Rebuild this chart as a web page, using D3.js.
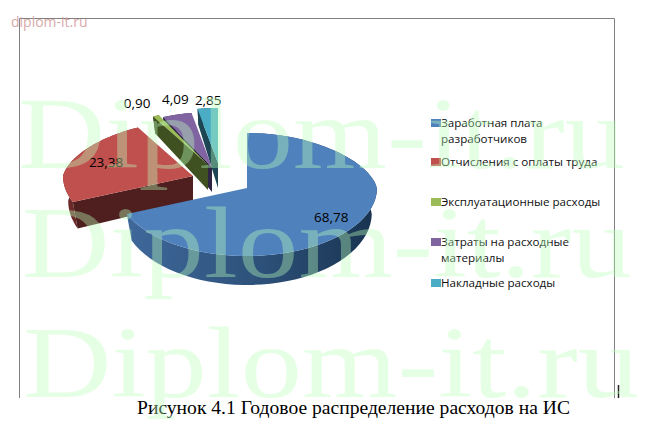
<!DOCTYPE html>
<html><head><meta charset="utf-8">
<script src="https://cdnjs.cloudflare.com/ajax/libs/d3/7.8.5/d3.min.js"></script>
<style>html,body{margin:0;padding:0;background:#fff;overflow:hidden}svg{display:block}</style>
</head><body><svg id="c" width="647" height="430"></svg>
<script>
const categories = ["Заработная плата разработчиков","Отчисления с оплаты труда","Эксплуатационные расходы","Затраты на расходные материалы","Накладные расходы"];
const values = [68.78,23.38,0.90,4.09,2.85];
const legendLines = [["Заработная плата","разработчиков"],["Отчисления с оплаты труда"],["Эксплуатационные расходы"],["Затраты на расходные","материалы"],["Накладные расходы"]];
const captionText = "Рисунок 4.1 Годовое распределение расходов на ИС";

// layout / style
const topColors = ["#4f81bd","#c0504d","#9bbb59","#8064a2","#4bacc6"];
const sideColors = ["url(#blueSide)","#6b2a28","#47591f","#2f2545","#1d4a57"];
const cutColors = ["#1c3a5c","#4e1f1e","#3f5021","#2e2444","#1c4653"];
const apexX = [247,193,208,212,218];
const apexY = [188,176,165,167,163];
const labelF = [.78,.74,1.25,1.28,1.15];
const labelShift = [0,0,-6,8,2];
const legendY = [123,162,202,242,283];
const rx = 130, ryBack = 55, ryFront = 68, depth = 25, ryBotBack = 64, ryBotFront = 72;

const svg = d3.select("#c");
const defs = svg.append("defs");
const g = defs.append("linearGradient").attr("id","blueSide");
g.append("stop").attr("offset","0%").attr("stop-color","#3f689b");
g.append("stop").attr("offset","55%").attr("stop-color","#2c5078");
g.append("stop").attr("offset","100%").attr("stop-color","#18324f");

const arcs = d3.pie().sort(null).value(d=>d)(values);
const xf = c => c>0 ? 1-.12*c : 1;
const topRim = (i,t)=>{const c=Math.cos(t),s=Math.sin(t);
  return [apexX[i]+rx*s*xf(c), apexY[i]-(c>0?ryBack:ryFront)*c];};
const botRim = (i,t)=>{const c=Math.cos(t),s=Math.sin(t);
  return [apexX[i]+rx*.96*s*xf(c), apexY[i]+depth-(c>0?ryBotBack:ryBotFront)*c];};
const line = d3.line();
const samples = (a,b)=>d3.range(0,61).map(k=>a+(b-a)*k/60);

const marks = svg.append("g");
[4,3,2,1,0].forEach(i=>{
  const a=arcs[i], gg=marks.append("g");
  const ts=samples(a.startAngle,a.endAngle);
  gg.append("path").attr("d",line(ts.map(t=>topRim(i,t)).concat(ts.slice().reverse().map(t=>botRim(i,t))))+"Z")
    .attr("fill",sideColors[i]);
  const ap=[apexX[i],apexY[i]], apB=[apexX[i],apexY[i]+depth];
  if(i>0) gg.append("path").attr("d",line([ap,topRim(i,a.startAngle),botRim(i,a.startAngle),apB])+"Z").attr("fill",cutColors[i]);
  gg.append("path").attr("d",line([ap].concat(ts.map(t=>topRim(i,t))))+"Z").attr("fill",topColors[i]);
});

// data labels
const fmt = v=>v.toFixed(2).replace(".",",");
svg.append("g").selectAll("text").data(arcs).join("text")
  .attr("x",(d,i)=>{const m=(d.startAngle+d.endAngle)/2;return apexX[i]+(topRim(i,m)[0]-apexX[i])*labelF[i]+labelShift[i];})
  .attr("y",(d,i)=>{const m=(d.startAngle+d.endAngle)/2;return apexY[i]+(topRim(i,m)[1]-apexY[i])*labelF[i]+4.5;})
  .attr("text-anchor","middle").attr("font-family","'Open Sans',sans-serif").attr("font-size",13.5).attr("fill","#000")
  .text(d=>fmt(d.value));

// legend
const leg = svg.append("g");
categories.forEach((c,i)=>{
  leg.append("rect").attr("x",431).attr("y",legendY[i]-4).attr("width",10).attr("height",8).attr("fill",topColors[i]);
  legendLines[i].forEach((l,k)=>leg.append("text").attr("x",441).attr("y",legendY[i]+4+k*16)
    .attr("font-family","'Open Sans',sans-serif").attr("font-size",11.6).attr("fill","#111").text(l));
});

// frame
const frame = svg.append("g").attr("stroke","#808080").attr("stroke-width",1).attr("fill","none");
frame.append("path").attr("d","M19.5,398V18.5H614.5V398");
svg.append("path").attr("d","M618.5,385V398").attr("stroke","#222").attr("stroke-width",1.5);

// caption
svg.append("text").attr("x",137).attr("y",414).attr("textLength",433).attr("lengthAdjust","spacingAndGlyphs")
  .attr("font-family","'Liberation Serif',serif").attr("font-size",18).attr("fill","#000").text(captionText);

// site marks
svg.append("text").attr("x",11).attr("y",27).attr("font-family","'Open Sans',sans-serif").attr("font-size",14)
  .attr("fill","#d8aaaa").text("diplom-it.ru");
[[18,168,607],[22,277,610],[23,397,616]].forEach(w=>{
  svg.append("text").attr("x",w[0]).attr("y",w[1]).attr("textLength",w[2]).attr("lengthAdjust","spacingAndGlyphs")
    .attr("font-family","'Liberation Serif',serif").attr("font-size",102)
    .attr("fill","rgb(187,255,187)").attr("fill-opacity",.38).text("Diplom-it.ru");
});
</script></body></html>
